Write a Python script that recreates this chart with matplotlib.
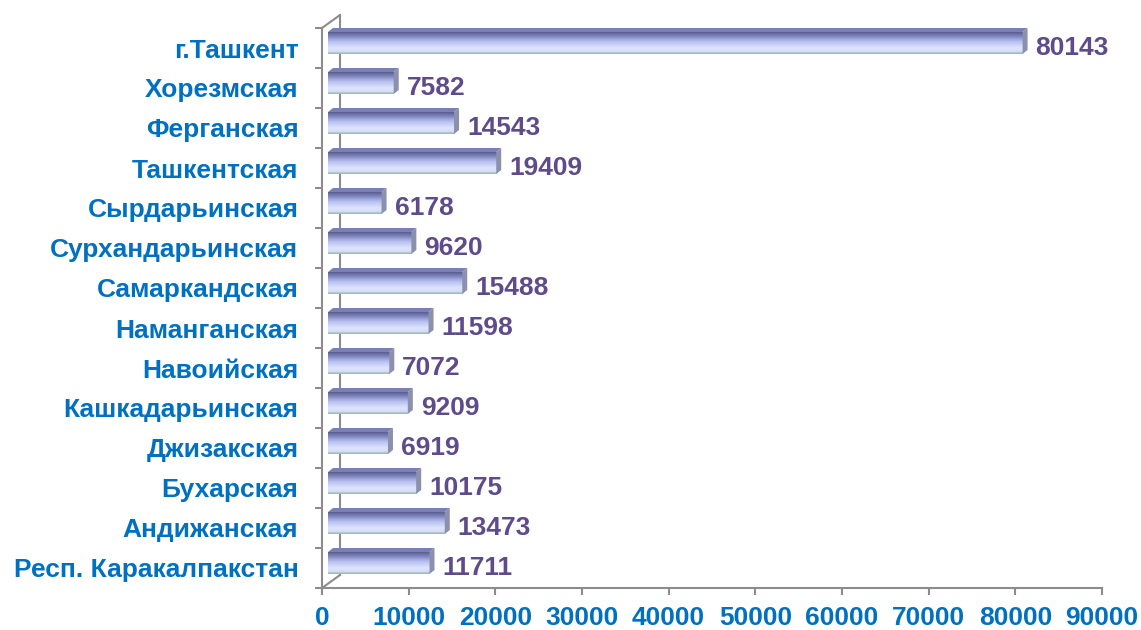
import matplotlib.pyplot as plt
import numpy as np
from matplotlib.colors import LinearSegmentedColormap
from matplotlib.patches import Polygon

# data, listed bottom to top as drawn
regions = ['Респ. Каракалпакстан', 'Андижанская', 'Бухарская', 'Джизакская',
           'Кашкадарьинская', 'Навоийская', 'Наманганская', 'Самаркандская',
           'Сурхандарьинская', 'Сырдарьинская', 'Ташкентская', 'Ферганская',
           'Хорезмская', 'г.Ташкент']
values = [11711, 13473, 10175, 6919, 9209, 7072, 11598, 15488,
          9620, 6178, 19409, 14543, 7582, 80143]
xticks = [0, 10000, 20000, 30000, 40000, 50000, 60000, 70000, 80000, 90000]

plt.rcParams['font.family'] = ['Liberation Sans', 'DejaVu Sans']
plt.rcParams['font.weight'] = 'bold'

W, H = 1141, 630
fig = plt.figure(figsize=(W / 100, H / 100), dpi=100)
ax = fig.add_axes([322 / W, (H - 588) / H, 780 / W, 560 / H])
ax.set_xlim(0, 90000)
ax.set_ylim(-0.5, len(regions) - 0.5)

sx = 90000 / 780   # data units per pixel, x
sy = 1 / 40        # data units per pixel, y

grey = '#8c8c8c'
blue = '#0070c0'
purple = '#5f4b8b'
fs = 19

# back wall of the pseudo 3d frame
wx, wy = 18 * sx, 13 * sy
ax.plot([wx, wx], [-0.5 + wy, len(regions) - 0.5 + wy], color=grey,
        lw=1.5, clip_on=False, zorder=1)
ax.plot([0, wx], [-0.5, -0.5 + wy], color=grey, lw=1.5, clip_on=False, zorder=1)
ax.plot([0, wx], [len(regions) - 0.5, len(regions) - 0.5 + wy], color=grey,
        lw=1.5, clip_on=False, zorder=1)

grad = LinearSegmentedColormap.from_list('bar', [
    (0.0, '#595d92'), (0.15, '#777db5'), (0.42, '#b6beef'),
    (0.72, '#dde4ff'), (0.9, '#d4ddf7'), (0.94, '#b4c4c0'), (1.0, '#a3b5ad')])
g = grad(np.linspace(0, 1, 64))[:, None, :3]

x0 = 6 * sx
dx, dy = 5 * sx, 4 * sy
for i, v in enumerate(values):
    bot, top = i - 6 * sy, i + 16 * sy
    x1 = x0 + v
    ax.imshow(g, extent=[x0, x1, bot, top], aspect='auto', origin='upper',
              interpolation='bilinear', zorder=3)
    ax.add_patch(Polygon([(x0, top), (x0 + dx, top + dy), (x1 + dx, top + dy),
                          (x1, top)], closed=True, fc='#7a80b2', ec='none', zorder=3))
    ax.add_patch(Polygon([(x1, top), (x1 + dx, top + dy), (x1 + dx, bot + dy),
                          (x1, bot)], closed=True, fc='#8b90ad', ec='none', zorder=3))
    ax.text(x1 + 13 * sx, i, str(v), color=purple, fontsize=fs,
            fontweight='bold', va='center', ha='left', zorder=4)

ax.set_xlim(0, 90000)
ax.set_ylim(-0.5, len(regions) - 0.5)

for s in ['top', 'right']:
    ax.spines[s].set_visible(False)
for s in ['left', 'bottom']:
    ax.spines[s].set_color(grey)
    ax.spines[s].set_linewidth(1.5)

ax.set_xticks(xticks)
ax.set_xticklabels([str(t) for t in xticks])
ax.set_yticks(range(len(regions)))
ax.set_yticklabels(regions)
ax.set_yticks(np.arange(-0.5, len(regions), 1), minor=True)
ax.tick_params(axis='y', which='major', length=0, pad=17)
ax.tick_params(axis='y', which='minor', length=5, width=1.5, color=grey)
ax.tick_params(axis='x', length=5, width=1.5, color=grey, pad=8)
for lab in ax.get_xticklabels() + ax.get_yticklabels():
    lab.set_color(blue)
    lab.set_fontsize(fs)
    lab.set_fontweight('bold')

fig.savefig('out.png', dpi=100)
